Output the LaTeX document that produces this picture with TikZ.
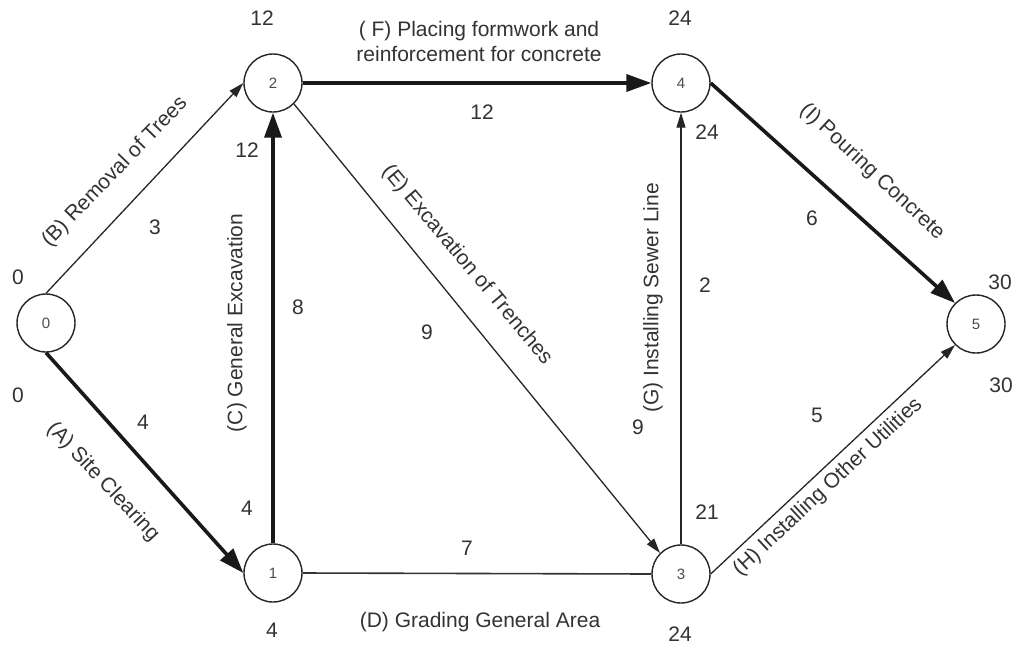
\documentclass[tikz,border=0pt]{standalone}
\usepackage{fontspec}
\setmainfont{Liberation Sans}
\usetikzlibrary{arrows.meta}
\tikzset{
  ev/.style={circle, draw=black!85, line width=1.4pt, minimum size=58pt, inner sep=0pt,
    font=\fontsize{15}{15}\selectfont, text=black!70},
  crit/.style={line width=3.6pt, draw=black!90, -{Triangle[length=25pt,width=17pt]}},
  norm/.style={line width=1.3pt, draw=black!85, -{Triangle[length=15pt,width=9pt]}},
  plain/.style={line width=1.6pt, draw=black!80},
  lbl/.style={font=\fontsize{21}{25}\selectfont, text=black!80, inner sep=0pt},
}
\begin{document}
\begin{tikzpicture}[x=1pt, y=-1pt]
\useasboundingbox[fill=white] (0,0) rectangle (1016,648);
% events
\node[ev] (n0) at (46,323) {0};
\node[ev] (n1) at (273,573) {1};
\node[ev] (n2) at (273,83) {2};
\node[ev] (n3) at (681,574) {3};
\node[ev] (n4) at (681,83) {4};
\node[ev] (n5) at (976,324) {5};
% activities
\draw[crit] (n0.south) -- (n1.west);
\draw[norm] (n0.north) -- (n2.west);
\draw[crit] (n1.north) -- (n2.south);
\draw[plain] (n1.east) -- (n3.west);
\draw[norm] (n2.south east) -- (n3.north west);
\draw[crit] (n2.east) -- (n4.west);
\draw[norm] (n3.north) -- (n4.south);
\draw[norm] (n3.east) -- (n5.south west);
\draw[crit] (n4.east) -- (n5.north west);
% labels
\node[lbl] (l0a) at (18,277) {0};
\node[lbl] (l0b) at (18,395) {0};
\node[lbl, rotate=46] (lB) at (115,172) {(B) Removal of Trees};
\node[lbl] (wB) at (155,227) {3};
\node[lbl] (wA) at (143,422) {4};
\node[lbl, rotate=-47] (lA) at (103,482) {(A) Site Clearing};
\node[lbl] (e2) at (262,18) {12};
\node[lbl] (ls2) at (247,150) {12};
\node[lbl] (ls1) at (247,508) {4};
\node[lbl, rotate=90] (lC) at (237,323) {(C) General Excavation};
\node[lbl] (wC) at (298,307) {8};
\node[lbl, align=center] (lF) at (479,41) {( F) Placing formwork and\\reinforcement for concrete};
\node[lbl] (wF) at (482,112) {12};
\node[lbl] (e4) at (680,18) {24};
\node[lbl] (ls4) at (707,132) {24};
\node[lbl, rotate=-50] (lE) at (467,265) {(E) Excavation of Trenches};
\node[lbl] (wE) at (427,332) {9};
\node[lbl, rotate=90] (lG) at (653,298) {(G) Installing Sewer Line};
\node[lbl] (wG) at (705,285) {2};
\node[lbl] (nine) at (638,427) {9};
\node[lbl] (ls3) at (707,512) {21};
\node[lbl] (wD) at (467,548) {7};
\node[lbl] (lD) at (480,622) {(D) Grading General Area};
\node[lbl] (e1) at (272,630) {4};
\node[lbl] (e3) at (680,634) {24};
\node[lbl, rotate=-43] (lI) at (872,172) {(I) Pouring Concrete};
\node[lbl] (wI) at (812,218) {6};
\node[lbl] (e5a) at (1000,282) {30};
\node[lbl] (e5b) at (1001,385) {30};
\node[lbl] (wH) at (817,415) {5};
\node[lbl, rotate=43] (lH) at (828,487) {(H) Installing Other Utilities};
\end{tikzpicture}
\end{document}
